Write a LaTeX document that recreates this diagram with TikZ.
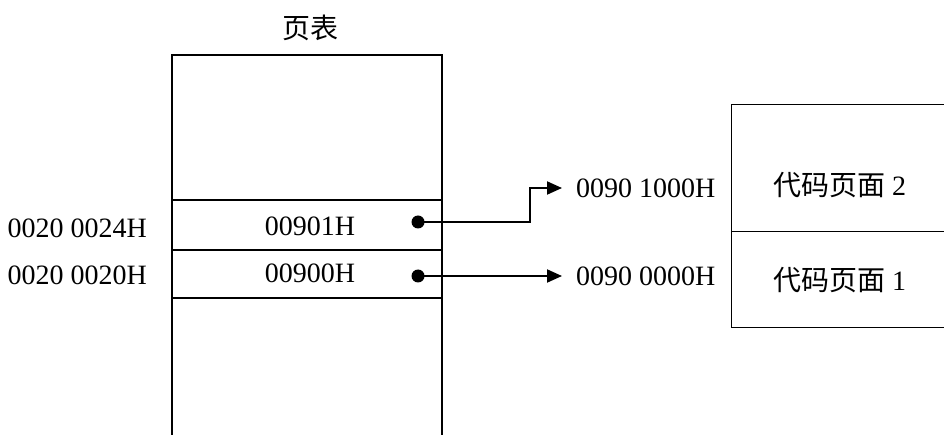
\documentclass[tikz,border=0pt]{standalone}
\usepackage{fontspec}
\setmainfont{Liberation Serif}
\newfontfamily\cjk{Noto Sans CJK SC}
\usetikzlibrary{arrows.meta}
\begin{document}
\begin{tikzpicture}[x=1pt,y=-1pt,
  txt/.style={font=\fontsize{28}{33}\selectfont, inner sep=0pt},
  cell/.style={draw, line width=2pt, anchor=north west, inner sep=0pt},
  page/.style={draw, line width=1.3pt, anchor=north west, inner sep=0pt},
  dot/.style={circle, fill=black, inner sep=0pt, minimum size=13pt},
  link/.style={line width=2pt, -{Triangle[length=15pt,width=13pt]}},
  addr/.style={txt, inner xsep=14pt}]
\useasboundingbox (0,0) rectangle (944,435);
\clip (0,0) rectangle (944,435);
\fill[white] (0,0) rectangle (944,435);
% page table
\node[cell, minimum width=270pt, minimum height=145pt] (top) at (171,54) {};
\node[cell, minimum width=270pt, minimum height=50pt] (r1) at (171,199) {};
\node[cell, minimum width=270pt, minimum height=48pt] (r0) at (171,249) {};
\node[cell, minimum width=270pt, minimum height=170pt] (bot) at (171,297) {};
\node[txt] (title) at (310,28) {\cjk 页表};
\node[txt] (v1) at (310,226) {00901H};
\node[txt] (v0) at (310,273) {00900H};
\node[txt, anchor=east] (l1) at (147,228) {0020 0024H};
\node[txt, anchor=east] (l0) at (147,275) {0020 0020H};
% dots
\node[dot] (d1) at (418,222) {};
\node[dot] (d0) at (418,276) {};
% target addresses
\node[addr, anchor=west] (a1) at (562,188) {0090 1000H};
\node[addr, anchor=west] (a0) at (562,276) {0090 0000H};
\coordinate (bend) at (530,222);
\draw[link] (d1.center) -- (bend) |- (a1.west);
\draw[link] (d0.center) -- (a0.west);
% code pages
\node[page, minimum width=230pt, minimum height=127pt] (p2) at (731,104) {};
\node[page, minimum width=230pt, minimum height=96pt] (p1) at (731,231) {};
\node[txt] (t2) at (840,185) {\cjk 代码页面 \rmfamily 2};
\node[txt] (t1) at (840,280) {\cjk 代码页面 \rmfamily 1};
\end{tikzpicture}
\end{document}
